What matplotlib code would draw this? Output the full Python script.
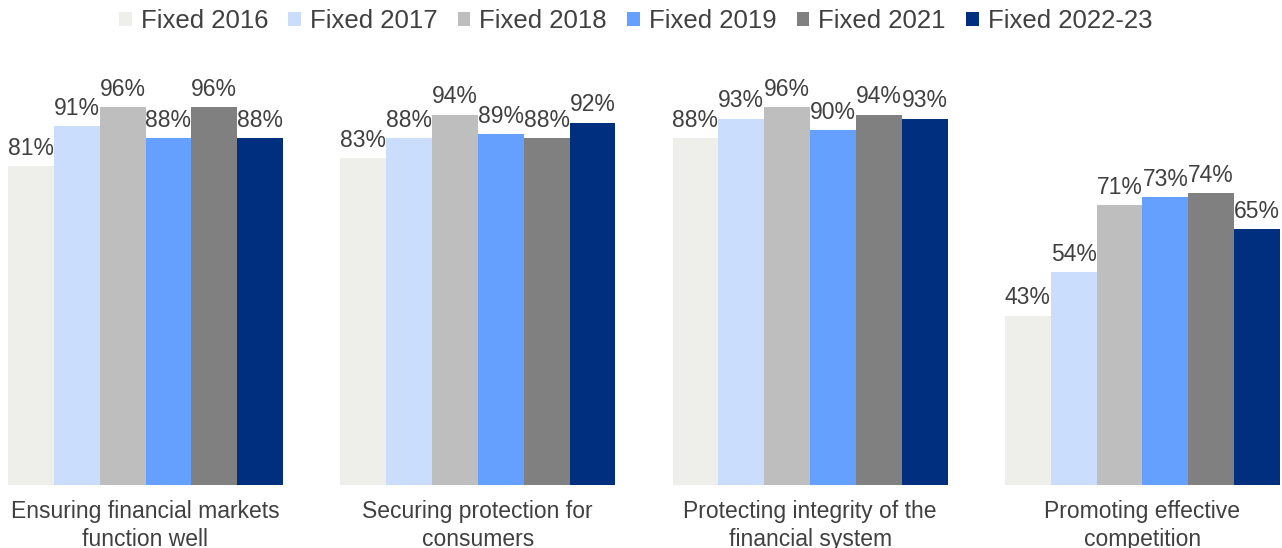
import matplotlib.pyplot as plt
from matplotlib.patches import Patch
import numpy as np

plt.rcParams['font.family'] = ['Liberation Sans', 'DejaVu Sans']

# Data
categories = ['Ensuring financial markets\nfunction well',
              'Securing protection for\nconsumers',
              'Protecting integrity of the\nfinancial system',
              'Promoting effective\ncompetition']
series = ['Fixed 2016', 'Fixed 2017', 'Fixed 2018', 'Fixed 2019', 'Fixed 2021', 'Fixed 2022-23']
values = [
    [81, 83, 88, 43],   # Fixed 2016
    [91, 88, 93, 54],   # Fixed 2017
    [96, 94, 96, 71],   # Fixed 2018
    [88, 89, 90, 73],   # Fixed 2019
    [96, 88, 94, 74],   # Fixed 2021
    [88, 92, 93, 65],   # Fixed 2022-23
]
colors = ['#EEEFEB', '#CADDFC', '#BEBEBE', '#66A0FF', '#808080', '#002F80']
text_col = '#404040'

W, H = 1282, 548
fig = plt.figure(figsize=(W/100, H/100), dpi=100)
ax = fig.add_axes([0, 63/H, 1, (H-63)/H])

x = np.arange(len(categories))
bw = 0.138
for i, (s, v, c) in enumerate(zip(series, values, colors)):
    pos = x + (i - 2.5)*bw
    ax.bar(pos, v, width=bw, color=c, label=s, linewidth=0)
    for p, val in zip(pos, v):
        ax.annotate(f'{val}%', (p, val), xytext=(0, 4.5), textcoords='offset points',
                    ha='center', va='bottom', fontsize=16.5, color=text_col)

ax.set_xlim(-145.5/332.3, (W-145.5)/332.3)
ax.set_ylim(0, 485/394*100)
ax.set_yticks([])
ax.set_xticks(x)
ax.set_xticklabels(categories, fontsize=16.5, color=text_col, linespacing=1.25)
ax.tick_params(axis='x', length=0, pad=11)
for sp in ax.spines.values():
    sp.set_visible(False)

handles = [Patch(facecolor=c, edgecolor='none') for c in colors]
fig.legend(handles, series, loc='center', bbox_to_anchor=(635.5/W, 1 - 21/H), ncol=6,
           frameon=False, fontsize=18.5, handlelength=0.5, handleheight=0.5,
           handletextpad=0.35, columnspacing=0.78, labelcolor=text_col)

fig.savefig('out.png', dpi=100)
